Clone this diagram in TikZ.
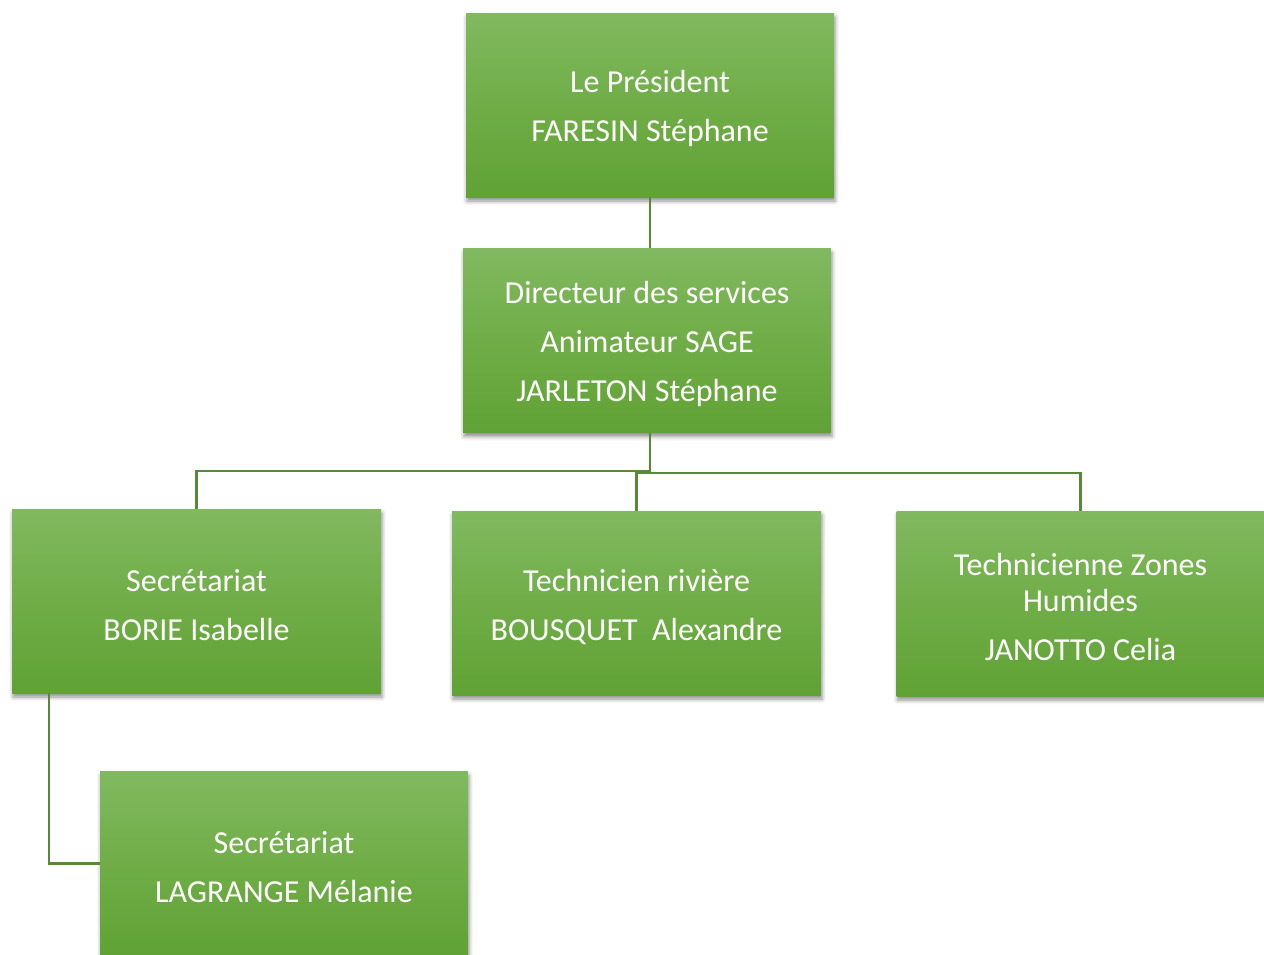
\documentclass[tikz,border=0pt]{standalone}
\usepackage{fontspec}
\setmainfont{Carlito}
\usetikzlibrary{shadows.blur}
\definecolor{boxtop}{RGB}{129,185,96}
\definecolor{boxmid}{RGB}{112,173,71}
\definecolor{boxbot}{RGB}{96,162,53}
\definecolor{linecol}{RGB}{86,138,52}
\newcommand{\topfix}{\rule{0pt}{4pt}\\[-10pt]}
\tikzset{
  orgbox/.style={rectangle, minimum width=368pt, minimum height=184pt, inner sep=0pt,
    top color=boxtop, bottom color=boxbot, middle color=boxmid, draw=none,
    text=white, align=center, font=\fontsize{32}{36}\selectfont,
    blur shadow={shadow xshift=1pt, shadow yshift=-4pt, shadow blur radius=4pt, shadow opacity=45}},
  conn/.style={draw=linecol, line width=2.5pt}
}
\begin{document}
\begin{tikzpicture}[x=1pt,y=-1pt]
\useasboundingbox (0,0) rectangle (1264,954);
\node[orgbox] (pres) at (650,105) {\topfix Le Président\\[13pt]FARESIN Stéphane};
\node[orgbox] (dir) at (647,340.5) {\topfix Directeur des services\\[13pt]Animateur SAGE\\[13pt]JARLETON Stéphane};
\node[orgbox, minimum width=369pt] (sec) at (196.5,601) {\topfix Secrétariat\\[13pt]BORIE Isabelle};
\node[orgbox, minimum width=369pt] (tech) at (636.5,603) {\topfix Technicien rivière\\[13pt]BOUSQUET\ \ Alexandre};
\node[orgbox, minimum height=185pt] (techn) at (1080.5,603.5) {\topfix Technicienne Zones\\Humides\\[13pt]JANOTTO Celia};
\node[orgbox] (lag) at (284,863.5) {\topfix Secrétariat\\[13pt]LAGRANGE Mélanie};
\coordinate (hub) at (650,433);
\draw[conn] (pres.south) -- (pres.south |- dir.north);
\draw[conn] (hub) -- (650,471) -| (sec.north);
\draw[conn] (hub) -- (650,473) -| (techn.north);
\draw[conn] (650,473) -| (tech.north);
\draw[conn] ([xshift=-147.5pt]sec.south) |- (lag.west);
\end{tikzpicture}
\end{document}
